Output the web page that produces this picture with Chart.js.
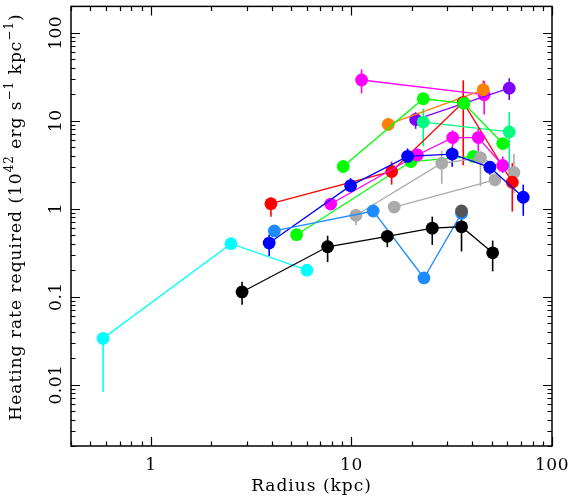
<!DOCTYPE html>
<html>
<head>
<meta charset="utf-8">
<script src="https://cdn.jsdelivr.net/npm/chart.js@4.4.1/dist/chart.umd.min.js"></script>
<style>
html,body{margin:0;padding:0;background:#fff;}
#wrap{width:568px;height:497px;}
</style>
</head>
<body>
<div id="wrap"><canvas id="c" width="568" height="497"></canvas></div>
<script>
// ---- data ----
const xTickLabels = ["1", "10", "100"];
const xTickValues = [1, 10, 100];
const yTickLabels = ["0.01", "0.1", "1", "10", "100"];
const yTickValues = [0.01, 0.1, 1, 10, 100];

const cyanX = [0.578, 2.51, 6.0];
const cyanY = [0.0335, 0.40, 0.20];
const cyanLo = [0.0082, null, null];
const cyanHi = [0.039, null, null];

const blackX = [2.85, 7.61, 15.1, 25.3, 35.4, 50.6];
const blackY = [0.113, 0.369, 0.485, 0.601, 0.623, 0.315];
const blackLo = [0.081, 0.247, 0.365, 0.387, 0.326, 0.194];
const blackHi = [0.148, 0.493, 0.561, 0.813, 0.95, 0.434];

const dgrayX = [35.4];
const dgrayY = [0.942];
const dgrayLo = [0.80];
const dgrayHi = [1.07];

const dodgerX = [4.13, 12.84, 23.0, 35.4];
const dodgerY = [0.559, 0.942, 0.163, 0.886];
const dodgerLo = [null, null, 0.148, null];
const dodgerHi = [null, null, 0.175, null];

const grayAX = [10.53, 28.2, 44.0, 64.6];
const grayAY = [0.841, 3.29, 3.79, 2.58];
const grayALo = [0.65, 1.92, 1.8, 1.5];
const grayAHi = [1.0, 4.56, 4.5, 4.2];

const grayBX = [16.35, 51.96];
const grayBY = [1.045, 2.13];

const redX = [3.97, 15.87, 36.1, 63.4];
const redY = [1.14, 2.65, 16.2, 2.0];
const redLo = [0.81, 1.88, 3.12, 0.93];
const redHi = [1.33, 3.43, 28.9, 3.3];

const blueX = [3.89, 9.91, 19.06, 31.8, 49.0, 71.9];
const blueY = [0.407, 1.83, 3.94, 4.18, 2.96, 1.35];
const blueLo = [0.289, 1.51, 3.04, 3.0, 2.43, 0.83];
const blueHi = [0.51, 2.23, 4.85, 5.1, 3.46, 1.88];

const greenLowX = [5.33, 19.81, 40.6];
const greenLowY = [0.506, 3.44, 3.94];

const greenUpX = [9.1, 22.8, 36.4, 56.8];
const greenUpY = [3.02, 17.8, 15.8, 5.51];
const greenUpLo = [2.7, null, null, 4.9];
const greenUpHi = [3.4, null, null, 6.2];

const magAX = [11.24, 45.9];
const magAY = [29.1, 19.8];
const magALo = [20.5, 11.8];
const magAHi = [38.4, 28.4];

const orangeX = [15.26, 45.4];
const orangeY = [9.09, 22.5];
const orangeLo = [null, 17.6];
const orangeHi = [null, 28.9];

const purpleX = [20.9, 61.2];
const purpleY = [10.34, 23.5];
const purpleLo = [8.1, 17.2];
const purpleHi = [12.5, 30.5];

const springX = [22.8, 61.2];
const springY = [9.67, 7.46];
const springLo = [5.1, 2.6];
const springHi = [13.7, 12.6];

const magBX = [7.88, 21.3, 31.98, 42.9, 56.8];
const magBY = [1.13, 4.08, 6.44, 6.44, 3.1];
const magBLo = [null, 3.5, 5.1, 4.45, 2.54];
const magBHi = [null, 4.7, 7.8, 8.1, 3.94];

// ---- build datasets ----
function mk(xs, ys, lo, hi, color) {
  return {
    data: xs.map((x, i) => ({x: x, y: ys[i], lo: lo ? lo[i] : null, hi: hi ? hi[i] : null})),
    borderColor: color,
    backgroundColor: color,
    pointBackgroundColor: color,
    pointBorderColor: color,
    pointRadius: 6.4,
    pointBorderWidth: 0,
    pointHoverRadius: 6.4,
    borderWidth: 1.3,
    showLine: true,
    tension: 0,
    errColor: color
  };
}
// earlier datasets are drawn on top
const datasets = [
  mk(dgrayX, dgrayY, dgrayLo, dgrayHi, '#555555'),
  mk(blackX, blackY, blackLo, blackHi, '#000000'),
  mk(dodgerX, dodgerY, dodgerLo, dodgerHi, '#1e8cff'),
  mk(cyanX, cyanY, cyanLo, cyanHi, '#00ffff'),
  mk(blueX, blueY, blueLo, blueHi, '#0000ff'),
  mk(magBX, magBY, magBLo, magBHi, '#ff00ff'),
  mk(greenUpX, greenUpY, greenUpLo, greenUpHi, '#00ff00'),
  mk(redX, redY, redLo, redHi, '#ff0000'),
  mk(grayAX, grayAY, grayALo, grayAHi, '#aaaaaa'),
  mk(greenLowX, greenLowY, null, null, '#00ff00'),
  mk(grayBX, grayBY, null, null, '#aaaaaa'),
  mk(springX, springY, springLo, springHi, '#00ff80'),
  mk(orangeX, orangeY, orangeLo, orangeHi, '#ff8000'),
  mk(purpleX, purpleY, purpleLo, purpleHi, '#8000ff'),
  mk(magAX, magAY, magALo, magAHi, '#ff00ff')
];

const FONT = '"DejaVu Serif", "Liberation Serif", serif';

const errorBars = {
  id: 'errorBars',
  beforeDatasetsDraw(chart) {
    const ctx = chart.ctx, xs = chart.scales.x, ys = chart.scales.y;
    ctx.save();
    ctx.lineWidth = 1.6;
    chart.data.datasets.forEach(ds => {
      ctx.strokeStyle = ds.errColor;
      ds.data.forEach(p => {
        if (p.lo == null || p.hi == null) return;
        const px = xs.getPixelForValue(p.x);
        ctx.beginPath();
        ctx.moveTo(px, ys.getPixelForValue(p.lo));
        ctx.lineTo(px, ys.getPixelForValue(p.hi));
        ctx.stroke();
      });
    });
    ctx.restore();
  }
};

function spaced(ctx, px) { if ('letterSpacing' in ctx) ctx.letterSpacing = px + 'px'; }

const frame = {
  id: 'frame',
  afterDraw(chart) {
    const ctx = chart.ctx, a = chart.chartArea, xs = chart.scales.x, ys = chart.scales.y;
    ctx.save();
    ctx.strokeStyle = '#000';
    ctx.lineWidth = 1.5;
    ctx.strokeRect(a.left, a.top, a.right - a.left, a.bottom - a.top);
    ctx.lineWidth = 1.2;
    const MAJ = 9, MIN = 4.5;
    for (let e = -1; e <= 2; e++) {
      for (let m = 1; m <= 9; m++) {
        const v = m * Math.pow(10, e);
        if (v < xs.min - 1e-9 || v > xs.max + 1e-9) continue;
        const px = Math.round(xs.getPixelForValue(v)) + 0.5;
        const L = m === 1 ? MAJ : MIN;
        ctx.beginPath();
        ctx.moveTo(px, a.bottom); ctx.lineTo(px, a.bottom - L);
        ctx.moveTo(px, a.top); ctx.lineTo(px, a.top + L);
        ctx.stroke();
      }
    }
    for (let e = -3; e <= 2; e++) {
      for (let m = 1; m <= 9; m++) {
        const v = m * Math.pow(10, e);
        if (v < ys.min - 1e-12 || v > ys.max + 1e-9) continue;
        const py = Math.round(ys.getPixelForValue(v)) + 0.5;
        const L = m === 1 ? MAJ : MIN;
        ctx.beginPath();
        ctx.moveTo(a.left, py); ctx.lineTo(a.left + L, py);
        ctx.moveTo(a.right, py); ctx.lineTo(a.right - L, py);
        ctx.stroke();
      }
    }
    // tick labels
    ctx.fillStyle = '#000';
    ctx.font = '17px ' + FONT;
    spaced(ctx, 0.5);
    ctx.textAlign = 'center';
    ctx.textBaseline = 'middle';
    xTickValues.forEach((v, i) => {
      ctx.fillText(xTickLabels[i], xs.getPixelForValue(v), a.bottom + 20);
    });
    yTickValues.forEach((v, i) => {
      ctx.save();
      ctx.translate(a.left - 14, ys.getPixelForValue(v));
      ctx.rotate(-Math.PI / 2);
      ctx.fillText(yTickLabels[i], 0, 0);
      ctx.restore();
    });
    // x title
    ctx.font = '17px ' + FONT;
    spaced(ctx, 1);
    ctx.fillText('Radius (kpc)', (a.left + a.right) / 2, a.bottom + 41);
    // y title with superscripts
    const parts = [
      ['Heating rate required (10', false], ['42', true], [' erg s', false], ['\u22121', true],
      [' kpc', false], ['\u22121', true], [')', false]
    ];
    const base = '17px ' + FONT, sup = '12px ' + FONT;
    let total = 0;
    parts.forEach(p => { ctx.font = p[1] ? sup : base; total += ctx.measureText(p[0]).width; });
    ctx.save();
    ctx.translate(17, 217);
    ctx.rotate(-Math.PI / 2);
    ctx.textAlign = 'left';
    let x = -total / 2;
    parts.forEach(p => {
      ctx.font = p[1] ? sup : base;
      ctx.fillText(p[0], x, p[1] ? -7 : 0);
      x += ctx.measureText(p[0]).width;
    });
    ctx.restore();
    ctx.restore();
  }
};

new Chart(document.getElementById('c'), {
  type: 'scatter',
  data: { datasets: datasets },
  options: {
    responsive: false,
    animation: false,
    devicePixelRatio: 1,
    layout: { padding: { left: 71, right: 16, top: 1, bottom: 51 } },
    plugins: { legend: { display: false }, tooltip: { enabled: false } },
    scales: {
      x: { type: 'logarithmic', min: 0.4, max: 100, display: true,
           grid: { display: false, drawTicks: false }, border: { display: false },
           ticks: { display: false } },
      y: { type: 'logarithmic', min: 0.002, max: 200, display: true,
           grid: { display: false, drawTicks: false }, border: { display: false },
           ticks: { display: false } }
    }
  },
  plugins: [errorBars, frame]
});
</script>
</body>
</html>
